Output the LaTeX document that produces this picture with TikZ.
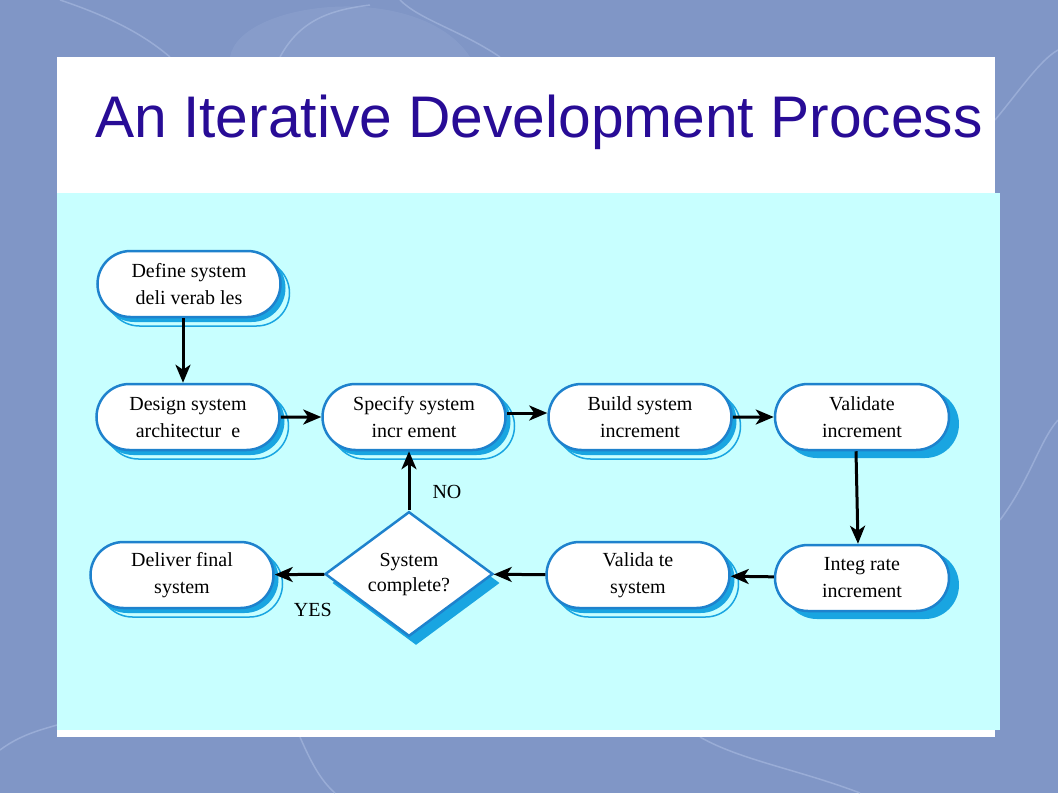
\documentclass[tikz,border=0pt]{standalone}
\usepackage{fontspec}
\setmainfont{Liberation Serif}
\newfontfamily\titlefont{Liberation Sans}
\usetikzlibrary{shapes.misc,shapes.geometric,shadows,arrows.meta,positioning}

\definecolor{slidebg}{RGB}{128,150,198}
\definecolor{bgvein}{RGB}{170,188,225}
\definecolor{panelcyan}{RGB}{200,255,255}
\definecolor{boxblue}{RGB}{30,130,205}
\definecolor{shadeblue}{RGB}{25,165,225}
\definecolor{titleblue}{RGB}{40,12,150}

\tikzset{
  pill/.style={rounded rectangle, draw=boxblue, line width=2.5pt, fill=white,
    minimum width=183pt, minimum height=66pt, inner sep=0pt, align=center},
  twoshade/.style={general shadow={shadow xshift=9pt, shadow yshift=-9pt,
      draw=shadeblue, line width=1.5pt, fill=panelcyan},
    general shadow={shadow xshift=4pt, shadow yshift=-4pt,
      fill=shadeblue, draw=shadeblue, line width=2pt}},
  oneshade/.style={general shadow={shadow xshift=9pt, shadow yshift=-7pt,
      fill=shadeblue, draw=shadeblue, line width=2pt}},
  decide/.style={diamond, draw=boxblue, line width=2.5pt, fill=white,
    minimum width=168pt, minimum height=123pt, inner sep=0pt, align=center,
    general shadow={shadow xshift=7pt, shadow yshift=-9pt, fill=shadeblue}},
  flow/.style={draw, line width=3pt, -{Stealth[length=18pt,width=15pt,inset=5pt]}},
  vein/.style={draw=bgvein, line width=1.5pt, opacity=.6}
}

\begin{document}
\begin{tikzpicture}[x=1pt,y=-1pt]
  \useasboundingbox (0,0) rectangle (1058,793);
  \fill[slidebg] (0,0) rectangle (1058,793);

  % background texture
  \fill[bgvein, opacity=.18] (230,57) .. controls (240,0) and (420,-20) .. (470,57);
  \path[vein] (60,0) .. controls (120,20) and (150,40) .. (170,57);
  \path[vein] (280,57) .. controls (300,20) and (330,10) .. (370,5);
  \path[vein] (400,0) .. controls (420,20) and (460,30) .. (500,57);
  \path[vein] (995,120) .. controls (1020,90) and (1040,60) .. (1058,50);
  \path[vein] (1000,520) .. controls (1030,480) and (1040,440) .. (1058,420);
  \path[vein] (0,750) .. controls (20,735) and (40,730) .. (57,725);
  \path[vein] (300,737) .. controls (310,760) and (320,780) .. (335,793);
  \path[vein] (700,737) .. controls (740,760) and (800,770) .. (860,793);

  % slide boxes
  \fill[white] (57,57) rectangle (995,737);
  \fill[panelcyan] (57,193) rectangle (1000,730);
  \node[anchor=base west, inner sep=0pt, text=titleblue,
    font=\titlefont\fontsize{58.7}{60}\selectfont] (title) at (95,137)
    {An Iterative Development Process};

  \begin{scope}[every node/.style={pill, font=\fontsize{20}{27}\selectfont}]
    \node[twoshade] (deliv)  at (189,284) {Define system\\ deli verab les};
    \node[twoshade] (design) at (188,417) {Design system\\ architectur~~e};
    \node[twoshade] (spec)   at (414,417) {Specify system\\ incr ement};
    \node[twoshade] (build)  at (640,417) {Build system\\ increment};
    \node[oneshade, minimum width=174pt] (valinc) at (862,417) {Validate\\ increment};
    \node[oneshade, minimum width=174pt] (integ)  at (862,578) {Integ rate\\ increment};
    \node[twoshade] (valsys) at (638,575) {Valida te\\ system};
    \node[twoshade] (final)  at (182,575) {Deliver final\\ system};
  \end{scope}

  \node[decide, font=\fontsize{20}{25}\selectfont] (done) at (409,574) {System\\ complete?};

  \begin{scope}[every node/.style={inner sep=0pt, font=\fontsize{20}{24}\selectfont}]
    \begin{scope}[every edge/.style={flow}]
      \path ([xshift=-6pt]deliv.south) edge ([xshift=-5pt]design.north);
      \path (design) edge (spec);
      \path ([yshift=4pt]spec.east) edge ([yshift=4pt]build.west);
      \path (build) edge (valinc);
      \path ([xshift=-6pt]valinc.south) edge ([xshift=-4pt]integ.north);
      \path (integ) edge (valsys);
      \path (valsys) edge (done);
      \path (done) edge node[pos=.23, below=27pt] {YES} (final);
      \path (done.north) edge node[pos=.31, right=22pt] {NO} (done.north |- spec.south);
    \end{scope}
  \end{scope}

\end{tikzpicture}
\end{document}
